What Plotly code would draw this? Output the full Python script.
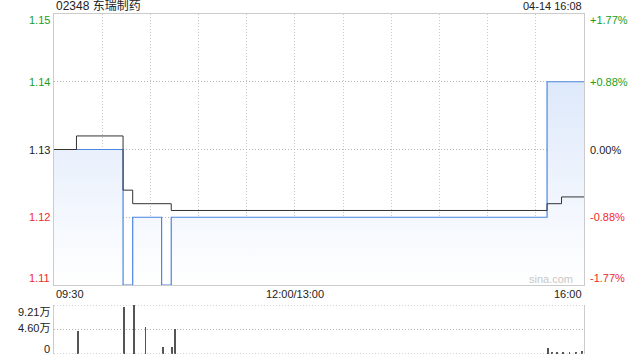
import plotly.graph_objects as go
from plotly.subplots import make_subplots

# ---- data ----
title_text = "02348 东瑞制药"
date_text = "04-14 16:08"
prev_close = 1.13

# minute index since 09:30 (trading minutes, 330 total)
price_t = [0, 43, 49, 67, 73, 307, 330]
price_v = [1.13, 1.11, 1.12, 1.11, 1.12, 1.14, 1.14]

avg_t = [0, 14, 43, 49, 73, 307, 316, 330]
avg_v = [1.13, 1.132, 1.124, 1.122, 1.121, 1.122, 1.123, 1.123]

vol_t = [15, 43.6, 49.8, 57, 67.9, 73.5, 75.4, 307.8, 310, 313, 316.8, 321, 325, 329]
vol_v = [4.41, 8.78, 9.21, 5.10, 1.23, 1.23, 4.73, 1.05, 0.3, 0.4, 0.4, 0.2, 0.3, 0.5]  # 万

left_ticks = [1.15, 1.14, 1.13, 1.12, 1.11]
right_ticks = ["+1.77%", "+0.88%", "0.00%", "-0.88%", "-1.77%"]
tick_colors = ["#1a9e1a", "#1a9e1a", "#222222", "#f22a2a", "#f22a2a"]
vol_ticks = [9.21, 4.60, 0]
vol_tick_text = ["9.21万", "4.60万", "0"]
x_ticks = [0, 150, 330]
x_tick_text = ["09:30", "12:00/13:00", "16:00"]

FONT = "Liberation Sans, Arial, Noto Sans CJK SC, sans-serif"
DOT = "1px,2px"

fig = make_subplots(rows=2, cols=1, shared_xaxes=False, vertical_spacing=0)

fig.add_trace(go.Scatter(
    x=price_t, y=price_v, mode="lines", line=dict(color="#4c86e0", width=1.2, shape="hv"),
    fill="tozeroy",
    fillgradient=dict(type="vertical", start=1.11, stop=1.15,
                      colorscale=[[0, "rgba(255,255,255,1)"], [1, "rgba(210,225,249,1)"]]),
    hoverinfo="skip", showlegend=False), row=1, col=1)

fig.add_trace(go.Scatter(
    x=avg_t, y=avg_v, mode="lines", line=dict(color="#333333", width=1, shape="hv"),
    hoverinfo="skip", showlegend=False), row=1, col=1)

fig.add_trace(go.Bar(
    x=vol_t, y=vol_v, width=0.55, marker=dict(color="#555555", line=dict(width=0)),
    hoverinfo="skip", showlegend=False), row=2, col=1)

main_bottom = (354 - 285) / 340
vol_top = (354 - 305) / 340

fig.update_layout(
    width=640, height=360,
    margin=dict(l=54, r=56, t=14, b=6),
    paper_bgcolor="white", plot_bgcolor="white",
    font=dict(family=FONT, size=11, color="#222"),
    bargap=0,
    xaxis=dict(domain=[0, 1], range=[0, 330], showticklabels=False, ticks="",
               showgrid=True, gridcolor="#c8c8c8", griddash=DOT, gridwidth=1,
               tick0=0, dtick=30, zeroline=False,
               showline=True, linecolor="#cccccc", linewidth=1, mirror=True),
    yaxis=dict(domain=[main_bottom, 1], range=[1.11, 1.15], showticklabels=False, ticks="",
               showgrid=True, gridcolor="#b4b4b4", griddash=DOT, gridwidth=1,
               tick0=1.11, dtick=0.01, zeroline=False,
               showline=True, linecolor="#cccccc", linewidth=1, mirror=True),
    xaxis2=dict(domain=[0, 1], range=[0, 330], showticklabels=False, ticks="",
                showgrid=False, zeroline=False),
    yaxis2=dict(domain=[0, vol_top], range=[0, 9.21], showticklabels=False, ticks="",
                showgrid=True, gridcolor="#b4b4b4", griddash=DOT, gridwidth=1,
                tickvals=vol_ticks, zeroline=False,
                showline=True, linecolor="#cccccc", linewidth=1, mirror=True),
)

# dotted top / bottom lines of volume panel
for yv in [9.21, 0]:
    fig.add_shape(type="line", xref="x2", yref="y2", x0=0, x1=330, y0=yv, y1=yv,
                  line=dict(color="#aaaaaa", width=1, dash=DOT))

ann = []
ann.append(dict(x=0, xref="paper", y=1.15, yref="y", yshift=8, xanchor="left", yanchor="middle",
                text=title_text, showarrow=False, font=dict(size=12, color="#222")))
ann.append(dict(x=1, xref="paper", y=1.15, yref="y", yshift=8, xanchor="right", yanchor="middle",
                text=date_text, showarrow=False, font=dict(size=11, color="#222")))

shifts = [-6, 0, 0, 0, 7]
for v, rt, c, s in zip(left_ticks, right_ticks, tick_colors, shifts):
    ann.append(dict(x=0, xref="paper", y=v, yref="y", yshift=s, xshift=-2, xanchor="right",
                    yanchor="middle", text=f"{v:.2f}", showarrow=False, font=dict(size=11, color=c)))
    ann.append(dict(x=1, xref="paper", y=v, yref="y", yshift=s, xshift=4, xanchor="left",
                    yanchor="middle", text=rt, showarrow=False, font=dict(size=11, color=c)))

vshifts = [-7, 2, 5]
for v, t, s in zip(vol_ticks, vol_tick_text, vshifts):
    ann.append(dict(x=0, xref="paper", y=v, yref="y2", yshift=s, xshift=-2, xanchor="right",
                    yanchor="middle", text=t, showarrow=False, font=dict(size=11, color="#222")))

anchors = ["left", "center", "right"]
for xv, t, a in zip(x_ticks, x_tick_text, anchors):
    ann.append(dict(x=xv, xref="x", y=1.11, yref="y", yshift=-9, xanchor=a, yanchor="middle",
                    text=t, showarrow=False, font=dict(size=11, color="#222")))

ann.append(dict(x=324.4, xref="x", y=1.11, yref="y", yshift=6, xanchor="right", yanchor="middle",
                text="sina.com", showarrow=False, font=dict(size=11, color="#c8c8c8")))

fig.update_layout(annotations=ann)
fig.write_html("out.html")
